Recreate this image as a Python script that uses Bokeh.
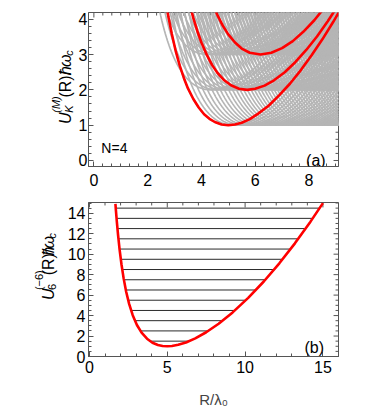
import numpy as np
from bokeh.plotting import figure
from bokeh.layouts import column, row
from bokeh.models import Label, Range1d, SingleIntervalTicker
from bokeh.core.properties import value
from bokeh.embed import file_html
from bokeh.resources import INLINE

# ---------------- data ----------------
# panel (a): family of gray potential curves  U = level + B2*(Rm^2/R - R)^2
B2 = 0.0787
GRAY_LEVELS = [1, 2, 3]
GRAY_MIN_L1 = [5.00, 5.20, 5.39, 5.57, 5.74, 5.92, 6.08, 6.24, 6.40, 6.56, 6.71, 6.86,
               7.00, 7.14, 7.28, 7.42, 7.55, 7.68, 7.81, 7.94, 8.06, 8.19, 8.31, 8.43,
               8.54, 8.66, 8.77, 8.89, 9.00, 9.11, 9.22, 9.33, 9.43, 9.54, 9.64, 9.75,
               9.85, 9.95, 10.05, 10.15, 10.25, 10.34, 10.44, 10.54, 10.63, 10.72,
               10.82, 10.91, 11.00, 11.09, 11.18, 11.27, 11.36, 11.45, 11.53, 11.62,
               11.70, 11.79, 11.87]
GRAY_MIN_L2 = [4.36, 4.58, 4.80, 5.00, 5.20, 5.39, 5.57, 5.74, 5.92, 6.08, 6.24, 6.40,
               6.56, 6.71, 6.86, 7.00, 7.14, 7.28, 7.42, 7.55, 7.68, 7.81, 7.94, 8.06,
               8.19, 8.31, 8.43, 8.54, 8.66, 8.77, 8.89, 9.00, 9.11, 9.22, 9.33, 9.43,
               9.54, 9.64, 9.75, 9.85, 9.95, 10.05, 10.15, 10.25, 10.34, 10.44, 10.54,
               10.63, 10.72, 10.82, 10.91, 11.00, 11.09, 11.18, 11.27, 11.36]
GRAY_MIN_L3 = [4.24, 4.47, 4.69, 4.90, 5.10, 5.29, 5.48, 5.66, 5.83, 6.00, 6.16, 6.32,
               6.48, 6.63, 6.78, 6.93, 7.07, 7.21, 7.35, 7.48, 7.62, 7.75, 7.87, 8.00,
               8.12, 8.25, 8.37, 8.49, 8.60, 8.72, 8.83, 8.94, 9.06, 9.17, 9.27, 9.38,
               9.49, 9.59, 9.70, 9.80, 9.90, 10.00, 10.10, 10.20, 10.30, 10.39, 10.49,
               10.58, 10.68, 10.77, 10.86, 10.95]

# panel (a): highlighted red curves
RED_A1_R = [2.55, 2.65, 2.78, 2.90, 3.05, 3.20, 3.35, 3.50, 3.70, 3.90, 4.10, 4.30, 4.50,
            4.75, 5.00, 5.25, 5.50, 5.80, 6.10, 6.50, 6.90, 7.30, 7.70, 8.10, 8.50, 8.90, 9.30]
RED_A1_U = [5.14, 4.62, 4.04, 3.58, 3.08, 2.67, 2.33, 2.04, 1.74, 1.50, 1.31, 1.18, 1.09,
            1.02, 1.00, 1.02, 1.07, 1.17, 1.32, 1.55, 1.85, 2.18, 2.56, 2.98, 3.43, 3.92, 4.44]
RED_A2_R = [3.40, 3.55, 3.70, 3.85, 4.00, 4.20, 4.40, 4.60, 4.85, 5.10, 5.40, 5.70, 6.00,
            6.35, 6.70, 7.10, 7.50, 7.90, 8.30, 8.70, 9.10]
RED_A2_U = [4.99, 4.47, 4.03, 3.66, 3.34, 2.99, 2.70, 2.48, 2.27, 2.13, 2.03, 2.00, 2.03,
            2.12, 2.27, 2.50, 2.79, 3.13, 3.51, 3.94, 4.41]
RED_A3_R = [4.30, 4.45, 4.60, 4.80, 5.00, 5.25, 5.50, 5.80, 6.20, 6.60, 7.00, 7.40, 7.80,
            8.20, 8.60]
RED_A3_U = [4.69, 4.37, 4.11, 3.81, 3.57, 3.34, 3.17, 3.05, 3.00, 3.05, 3.18, 3.38, 3.65,
            3.97, 4.35]

# panel (b): single potential and its levels
B_R = [1.67, 1.70, 1.76, 1.84, 1.94, 2.06, 2.20, 2.36, 2.55, 2.78, 3.05, 3.35, 3.70, 4.05,
       4.40, 4.70, 5.00, 5.30, 5.70, 6.20, 6.80, 7.50, 8.30, 9.20, 10.2, 11.2, 12.2, 13.2,
       14.2, 15.0]
B_U = [14.92, 14.31, 13.19, 11.86, 10.43, 8.99, 7.61, 6.33, 5.14, 4.04, 3.08, 2.33, 1.74,
       1.35, 1.13, 1.03, 1.00, 1.03, 1.14, 1.37, 1.77, 2.37, 3.20, 4.31, 5.73, 7.33, 9.11,
       11.06, 13.18, 14.99]
B_LEVELS = [1.5, 2.5, 3.5, 4.5, 5.5, 6.5, 7.5, 8.5, 9.5, 10.5, 11.5, 12.5, 13.5, 14.5]

A_XTICK, A_XMINOR = 2, 6
A_YTICK, A_YMINOR = 1, 5
B_XTICK, B_XMINOR = 5, 5
B_YTICK, B_YMINOR = 2, 4

# ---------------- helpers ----------------
FONT = "Liberation Sans"
FRAME = "#555555"


def style(p, xr, yr, xint, xminor, yint, yminor, fw, fh, xstandoff, ystandoff):
    p.xaxis.ticker = SingleIntervalTicker(interval=xint, num_minor_ticks=xminor)
    p.yaxis.ticker = SingleIntervalTicker(interval=yint, num_minor_ticks=yminor)
    for ax in list(p.xaxis) + list(p.yaxis):
        ax.major_tick_in = 5
        ax.major_tick_out = 0
        ax.minor_tick_in = 3
        ax.minor_tick_out = 0
        ax.axis_line_color = FRAME
        ax.major_tick_line_color = FRAME
        ax.minor_tick_line_color = FRAME
        ax.major_label_text_font = FONT
        ax.major_label_text_font_size = "16px"
        ax.major_label_text_color = "black"
    p.xaxis.major_label_standoff = xstandoff
    p.yaxis.major_label_standoff = ystandoff
    p.xgrid.grid_line_color = None
    p.ygrid.grid_line_color = None
    p.outline_line_color = FRAME
    p.background_fill_color = "white"
    p.border_fill_color = "white"
    # mirrored (unlabelled) ticks on the top and right frame edges
    px_x = (xr[1] - xr[0]) / fw
    px_y = (yr[1] - yr[0]) / fh
    xs0, ys0, xs1, ys1 = [], [], [], []
    xstep = xint / xminor
    k0 = int(np.ceil(xr[0] / xstep - 1e-9))
    k1 = int(np.floor(xr[1] / xstep + 1e-9))
    for k in range(k0, k1 + 1):
        xv = k * xstep
        ln = 5 if k % xminor == 0 else 3
        xs0.append(xv); xs1.append(xv); ys0.append(yr[1]); ys1.append(yr[1] - ln * px_y)
    ystep = yint / yminor
    k0 = int(np.ceil(yr[0] / ystep - 1e-9))
    k1 = int(np.floor(yr[1] / ystep + 1e-9))
    for k in range(k0, k1 + 1):
        yv = k * ystep
        ln = 5 if k % yminor == 0 else 3
        ys0.append(yv); ys1.append(yv); xs0.append(xr[1]); xs1.append(xr[1] - ln * px_x)
    p.segment(x0=xs0, y0=ys0, x1=xs1, y1=ys1, line_color=FRAME, line_width=1)


def label_fig(width, height, pieces, y_bottom, xb):
    """a blank figure holding a rotated composite axis title.
    pieces: (text, size_px, italic, dy_from_bottom, dx_from_baseline); y measured from fig top"""
    f = figure(width=width, height=height, x_range=Range1d(0, width),
               y_range=Range1d(0, height), output_backend="svg", toolbar_location=None,
               min_border=0, x_axis_type=None, y_axis_type=None)
    f.outline_line_color = None
    f.xgrid.grid_line_color = None
    f.ygrid.grid_line_color = None
    f.background_fill_color = "white"
    f.border_fill_color = "white"
    for text, size, italic, dy, dx in pieces:
        f.text(x=[xb + dx], y=[height - (y_bottom - dy)], text=[text], angle=np.pi / 2,
               text_align="left", text_baseline="alphabetic", text_font=value(FONT),
               text_font_size=value(f"{size}px"),
               text_font_style=value("italic" if italic else "normal"),
               text_color="black")
    return f


# ---------------- panel (a) ----------------
AX = (-0.2, 9.1)
AY = (-0.17, 4.19)
LA_W = 75
p1 = figure(width=358 - LA_W, height=192, x_range=Range1d(*AX), y_range=Range1d(*AY),
            output_backend="svg", toolbar_location=None,
            min_border_left=85 - LA_W, min_border_right=20, min_border_top=12,
            min_border_bottom=26)
style(p1, AX, AY, A_XTICK, A_XMINOR, A_YTICK, A_YMINOR, 253.0, 154.0, 7, 1)


def conv_a(px, py):
    return (AX[0] + (px - 85) * (AX[1] - AX[0]) / 253.0, AY[0] + (166 - py) * (AY[1] - AY[0]) / 154.0)


Rg = np.linspace(1.5, 9.4, 500)
gxs, gys = [], []
for lev, mins in zip(GRAY_LEVELS, [GRAY_MIN_L1, GRAY_MIN_L2, GRAY_MIN_L3]):
    for rm in mins:
        U = lev + B2 * (rm ** 2 / Rg - Rg) ** 2
        idx = np.where(U < 4.6)[0]
        if len(idx) == 0:
            continue
        i0 = max(idx[0] - 1, 0)
        i1 = min(idx[-1] + 2, len(Rg))
        gxs.append(Rg[i0:i1].tolist())
        gys.append(U[i0:i1].tolist())
p1.multi_line(gxs, gys, line_color="#b5b5b5", line_width=1.7)
for rx, ry in ((RED_A1_R, RED_A1_U), (RED_A2_R, RED_A2_U), (RED_A3_R, RED_A3_U)):
    p1.line(rx, ry, line_color="#ff0000", line_width=2.6, line_join="round")

x, y = conv_a(98, 147)
p1.add_layout(Label(x=x, y=y, text="N=4", text_font=FONT, text_font_size="14px",
                    text_align="left", text_baseline="alphabetic", text_color="black"))
x, y = conv_a(325, 160)
p1.add_layout(Label(x=x, y=y, text="(a)", text_font=FONT, text_font_size="16px",
                    text_align="right", text_baseline="alphabetic", text_color="black"))

pieces_a = [("U", 16, True, 0, 0), ("(M)", 11, True, 14, -10), ("K", 11, True, 14, 3.5),
            ("(R)/", 16, False, 33, 0), ("ħ", 16, True, 61, 0), ("ω", 16, True, 71, 0),
            ("c", 11, True, 85, 3.5)]
la = label_fig(LA_W, 192, pieces_a, 139, 65)

# ---------------- panel (b) ----------------
BX = (-0.06, 16.0)
BY = (0.0, 15.05)
LB_W = 64
P2_H = 218
p2 = figure(width=358 - LB_W, height=P2_H, x_range=Range1d(*BX), y_range=Range1d(*BY),
            output_backend="svg", toolbar_location=None,
            min_border_left=85 - LB_W, min_border_right=20, min_border_top=10,
            min_border_bottom=52)
style(p2, BX, BY, B_XTICK, B_XMINOR, B_YTICK, B_YMINOR, 253.0, 156.0, 4, 3)


def conv_b(px, py):
    return (BX[0] + (px - 85) * (BX[1] - BX[0]) / 253.0, BY[0] + (358 - py) * (BY[1] - BY[0]) / 156.0)


# energy levels spanning the well
Rb = np.array(B_R)
Ub = np.array(B_U)
imin = int(np.argmin(Ub))
lx0, lx1 = [], []
for lev in B_LEVELS:
    lx0.append(float(np.interp(lev, Ub[:imin + 1][::-1], Rb[:imin + 1][::-1])))
    lx1.append(float(np.interp(lev, Ub[imin:], Rb[imin:])))
p2.segment(x0=lx0, y0=B_LEVELS, x1=lx1, y1=B_LEVELS, line_color="#2a2a2a", line_width=1)
p2.line(B_R, B_U, line_color="#ff0000", line_width=2.6, line_join="round")

x, y = conv_b(323.3, 349)
p2.add_layout(Label(x=x, y=y, text="(b)", text_font=FONT, text_font_size="16px",
                    text_align="right", text_baseline="alphabetic", text_color="black"))

xb_axis = p2.below[0]
xb_axis.axis_label = "R/λ₀"
xb_axis.axis_label_text_font = FONT
xb_axis.axis_label_text_font_size = "15px"
xb_axis.axis_label_text_font_style = "normal"
xb_axis.axis_label_standoff = 15

pieces_b = [("U", 16, True, 0, 0), ("(−6)", 11, False, 14, -10), ("6", 11, False, 14, 3.5),
            ("(R)/", 16, False, 35, 0), ("ħ", 16, True, 63, 0), ("ω", 16, True, 73, 0),
            ("c", 11, True, 87, 3.5)]
# page y of the bottom of the label: 330; figure (b) top is at page y 192
lb = label_fig(LB_W, P2_H, pieces_b, 330 - 192, 48)

layout = column(row(la, p1, spacing=0), row(lb, p2, spacing=0), spacing=0)
open("out.html", "w").write(file_html(layout, INLINE))
